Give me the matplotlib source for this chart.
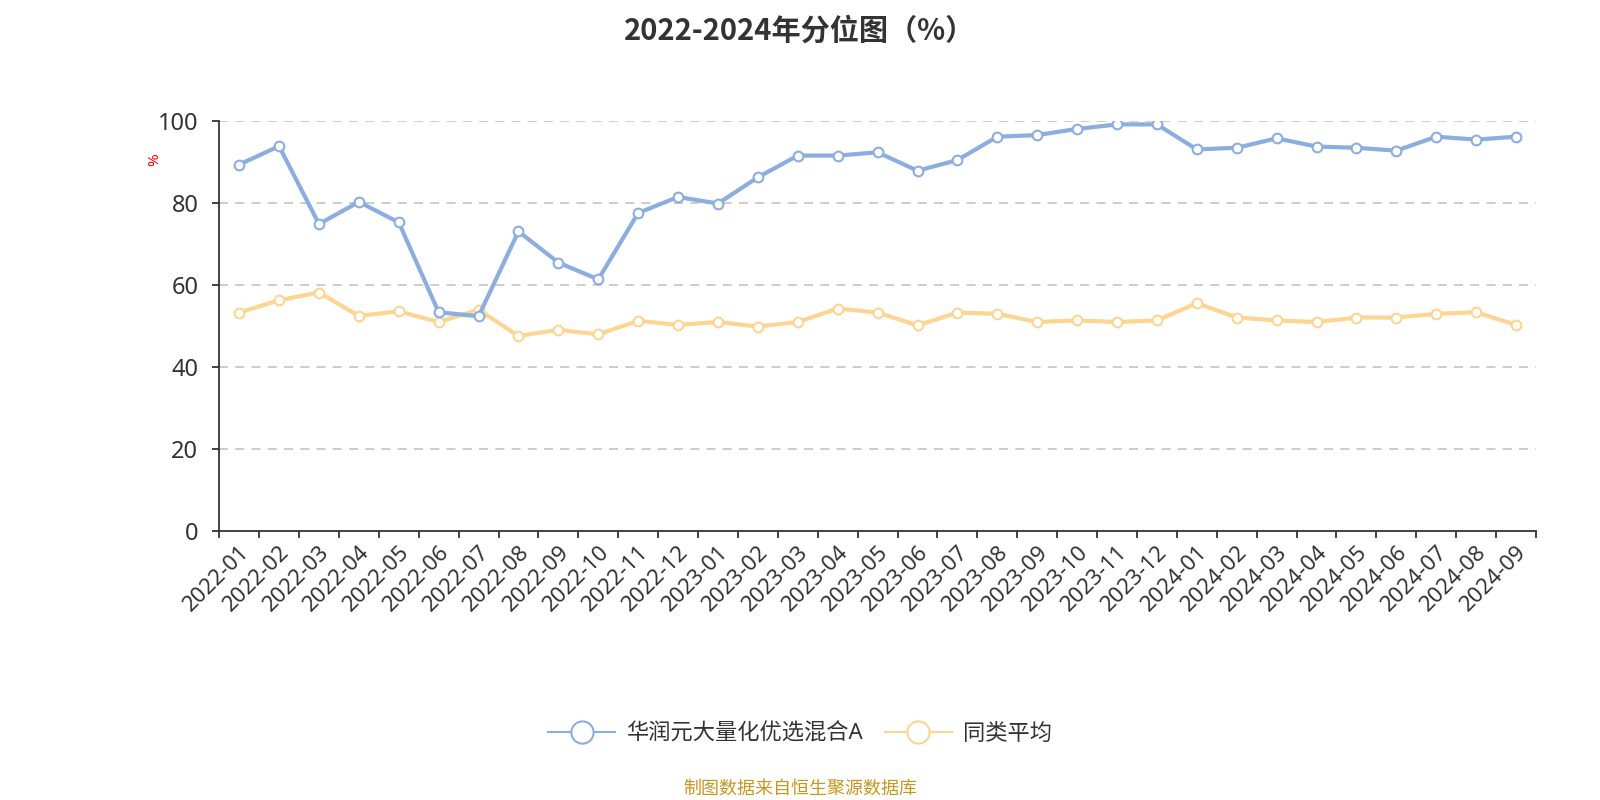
import matplotlib
matplotlib.use("Agg")
import matplotlib.pyplot as plt
from matplotlib.lines import Line2D

plt.rcParams['font.family'] = ['Noto Sans', 'Noto Sans CJK SC', 'DejaVu Sans']

months = [
    "2022-01", "2022-02", "2022-03", "2022-04", "2022-05", "2022-06",
    "2022-07", "2022-08", "2022-09", "2022-10", "2022-11", "2022-12",
    "2023-01", "2023-02", "2023-03", "2023-04", "2023-05", "2023-06",
    "2023-07", "2023-08", "2023-09", "2023-10", "2023-11", "2023-12",
    "2024-01", "2024-02", "2024-03", "2024-04", "2024-05", "2024-06",
    "2024-07", "2024-08", "2024-09",
]
fund = [
    89.3, 93.8, 74.8, 80.2, 75.2, 53.3, 52.3, 73.0, 65.4, 61.3, 77.5, 81.4,
    79.8, 86.2, 91.5, 91.5, 92.3, 87.8, 90.4, 96.1, 96.5, 98.0, 99.1, 99.1,
    93.0, 93.4, 95.7, 93.7, 93.4, 92.7, 96.1, 95.4, 96.1,
]
peer_avg = [
    53.2, 56.2, 58.1, 52.4, 53.5, 50.9, 53.9, 47.5, 49.0, 47.9, 51.2, 50.2,
    50.9, 49.8, 50.9, 54.2, 53.2, 50.1, 53.2, 52.9, 50.9, 51.3, 50.9, 51.3,
    55.5, 52.0, 51.3, 50.9, 52.0, 52.0, 52.9, 53.3, 50.2,
]
series_names = ["华润元大量化优选混合A", "同类平均"]

blue = "#8cade0"
orange = "#fdd592"
axis_col = "#333333"

fig = plt.figure(figsize=(16, 8), dpi=100)
ax = fig.add_axes([0.137, 0.3366, 0.823, 0.5125])

x = list(range(len(months)))
ax.plot(x, fund, color=blue, lw=3, marker="o", ms=7, mfc="white",
        mec=blue, mew=1.5, zorder=3)
ax.plot(x, peer_avg, color=orange, lw=3, marker="o", ms=7, mfc="white",
        mec=orange, mew=1.5, zorder=2)

ax.set_xlim(-0.5, len(months) - 0.5)
ax.set_ylim(0, 100)
ax.set_yticks([0, 20, 40, 60, 80, 100])
for v in [20, 40, 60, 80, 100]:
    ax.axhline(v, color="#c8c8c8", lw=1.3, ls=(0, (5, 4)), zorder=1)

# ticks sit on the category borders, labels in the middle
ax.set_xticks([i - 0.5 for i in range(len(months) + 1)], minor=False)
ax.set_xticklabels([])
ax.set_xticks(x, minor=True)
ax.set_xticklabels(months, minor=True, rotation=45, ha="right",
                   rotation_mode="anchor", fontsize=16, color=axis_col)
ax.tick_params(axis="x", which="minor", length=0, pad=8)
ax.tick_params(axis="x", which="major", length=5, color=axis_col, width=1.3)
ax.tick_params(axis="y", length=5, color=axis_col, width=1.3,
               labelsize=17, labelcolor=axis_col, pad=10)

for s in ["top", "right"]:
    ax.spines[s].set_visible(False)
for s in ["left", "bottom"]:
    ax.spines[s].set_color(axis_col)
    ax.spines[s].set_linewidth(1.3)

fig.text(0.097, 0.80, "%", color="red", fontsize=11, rotation=90,
         ha="center", va="center")

fig.suptitle("2022-2024年分位图（%）", fontsize=21, fontweight="bold",
             color=axis_col, y=0.98, family=['Noto Sans CJK SC', 'DejaVu Sans'])

handles = [
    Line2D([0], [0], color=blue, lw=1.5, marker="o", ms=16, mfc="white",
           mec=blue, mew=1.5),
    Line2D([0], [0], color=orange, lw=1.5, marker="o", ms=16, mfc="white",
           mec=orange, mew=1.5),
]
fig.legend(handles, series_names, loc="center", bbox_to_anchor=(0.5, 0.082),
           ncol=2, frameon=False, fontsize=16, handlelength=3,
           columnspacing=1.0, handletextpad=0.5, labelcolor=axis_col)

fig.text(0.5, 0.014, "制图数据来自恒生聚源数据库", color="#c8961e",
         fontsize=13, ha="center", va="center")

fig.savefig("out.png", dpi=100)
